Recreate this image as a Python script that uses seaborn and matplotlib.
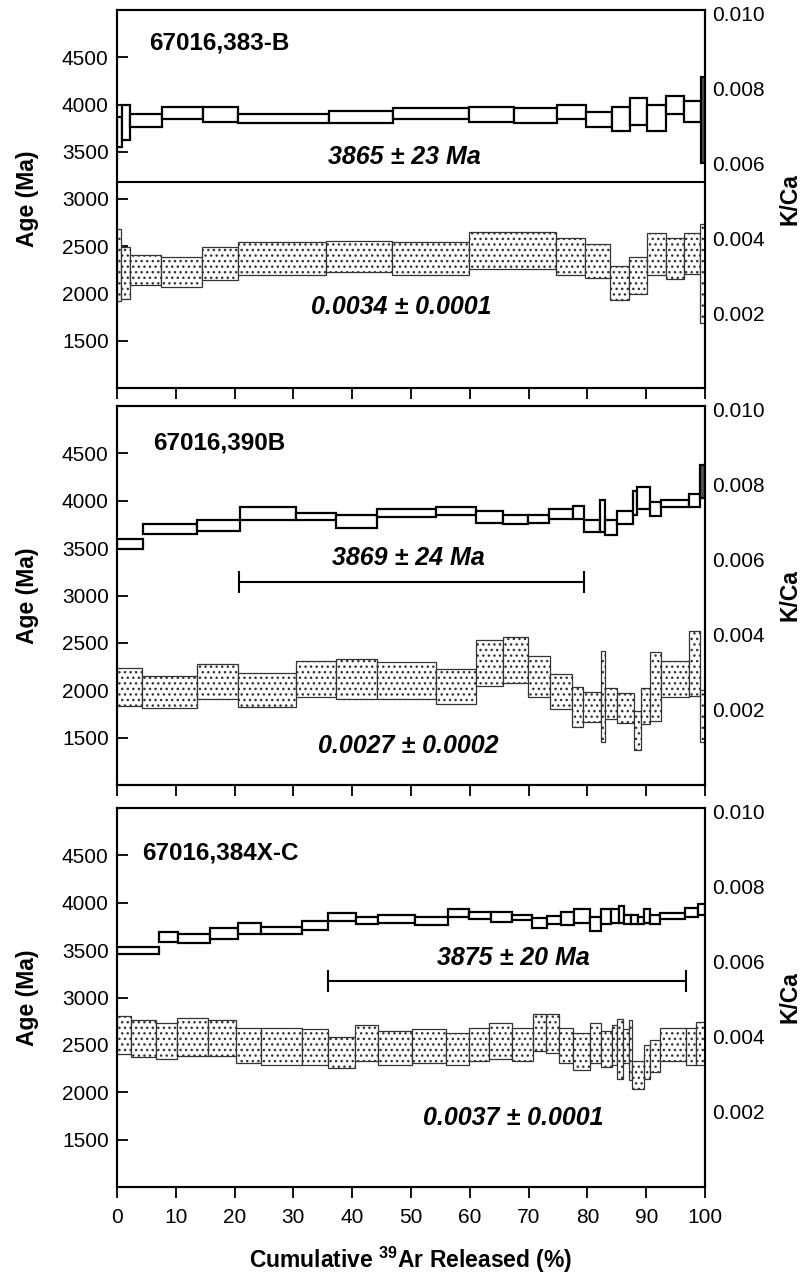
import numpy as np
import matplotlib
matplotlib.use("Agg")
import matplotlib.pyplot as plt
import seaborn as sns

# ----------------------------------------------------------------------
# Datos (bordes en % 39Ar acumulado, edad en Ma)
# ----------------------------------------------------------------------
p1_age_edges = [0, 0.8, 2.2, 7.7, 14.6, 20.6, 36.0, 46.9, 59.8, 67.6, 74.9,
                79.8, 84.2, 87.2, 90.2, 93.4, 96.5, 99.3, 100]
p1_age_hi = [3868, 3995, 3900, 3974, 3974, 3900, 3931, 3963, 3974, 3963,
             3995, 3921, 3974, 4069, 3995, 4090, 4037, 4291]
p1_age_lo = [3550, 3624, 3762, 3847, 3815, 3804, 3804, 3847, 3815, 3804,
             3847, 3762, 3720, 3783, 3720, 3900, 3815, 3381]
p1_kca_edges = [0, 0.6, 2.2, 7.5, 14.4, 20.6, 35.6, 46.7, 59.8, 74.6, 79.6,
                83.9, 87.0, 90.2, 93.3, 96.4, 99.1, 100]
p1_kca_hi = [0.00425, 0.00376, 0.00356, 0.00350, 0.00376, 0.00390, 0.00394,
             0.00390, 0.00418, 0.00400, 0.00385, 0.00327, 0.00350, 0.00414,
             0.00400, 0.00414, 0.00437]
p1_kca_lo = [0.00232, 0.00238, 0.00275, 0.00270, 0.00289, 0.00303, 0.00310,
             0.00303, 0.00319, 0.00303, 0.00294, 0.00236, 0.00250, 0.00301,
             0.00290, 0.00305, 0.00173]

p2_age_edges = [0, 4.4, 13.6, 21.0, 30.5, 37.3, 44.3, 54.3, 61.1, 65.6, 69.9,
                73.4, 77.5, 79.5, 82.2, 83.0, 85.0, 87.8, 88.4, 90.6, 92.5,
                97.3, 99.2, 100]
p2_age_hi = [3600, 3752, 3794, 3929, 3872, 3847, 3914, 3929, 3889, 3854, 3847,
             3910, 3949, 3801, 4013, 3794, 3893, 4104, 4140, 3988, 4013, 4066,
             4376]
p2_age_lo = [3494, 3653, 3678, 3794, 3794, 3713, 3830, 3847, 3769, 3752, 3769,
             3812, 3812, 3670, 3670, 3635, 3752, 3847, 3910, 3836, 3929, 3929,
             4024]
p2_kca_edges = [0, 4.3, 13.6, 20.6, 30.5, 37.3, 44.3, 54.3, 61.1, 65.6, 69.9,
                73.6, 77.3, 79.3, 82.3, 83.0, 85.1, 87.9, 89.1, 90.7, 92.5,
                97.3, 99.1, 100]
p2_kca_hi = [0.00313, 0.00290, 0.00322, 0.00299, 0.00330, 0.00335, 0.00327,
             0.00308, 0.00386, 0.00394, 0.00344, 0.00295, 0.00262, 0.00249,
             0.00358, 0.00258, 0.00244, 0.00197, 0.00258, 0.00355, 0.00330,
             0.00411, 0.00253]
p2_kca_lo = [0.00211, 0.00206, 0.00228, 0.00209, 0.00234, 0.00229, 0.00228,
             0.00216, 0.00264, 0.00271, 0.00234, 0.00202, 0.00154, 0.00169,
             0.00115, 0.00175, 0.00166, 0.00093, 0.00162, 0.00171, 0.00234,
             0.00238, 0.00114]

p3_age_edges = [0, 7.1, 10.4, 15.8, 20.6, 24.5, 31.5, 35.9, 40.6, 44.4, 50.7,
                56.3, 59.8, 63.6, 67.2, 70.6, 73.1, 75.5, 77.8, 80.5, 82.3,
                84.0, 85.3, 86.3, 87.4, 88.6, 89.6, 90.7, 92.3, 96.6, 98.8, 100]
p3_age_hi = [3538, 3693, 3672, 3732, 3791, 3749, 3812, 3890, 3854, 3872, 3854,
             3932, 3907, 3907, 3872, 3837, 3862, 3907, 3932, 3854, 3932, 3932,
             3967, 3872, 3872, 3854, 3932, 3872, 3897, 3943, 3985]
p3_age_lo = [3461, 3591, 3574, 3616, 3672, 3672, 3714, 3809, 3774, 3791, 3767,
             3848, 3827, 3802, 3820, 3732, 3777, 3767, 3791, 3707, 3777, 3791,
             3791, 3777, 3777, 3777, 3791, 3777, 3827, 3854, 3872]
p3_kca_edges = [0, 2.4, 6.7, 10.2, 15.5, 20.2, 24.5, 31.5, 35.9, 40.5, 44.4,
                50.2, 56.0, 59.8, 63.2, 67.2, 70.7, 72.9, 75.1, 77.6, 80.5,
                82.3, 84.2, 85.0, 86.1, 87.0, 87.6, 89.6, 90.6, 92.3, 96.8,
                98.5, 100]
p3_kca_hi = [0.00456, 0.00445, 0.00436, 0.00451, 0.00445, 0.00425, 0.00425,
             0.00420, 0.00401, 0.00432, 0.00416, 0.00420, 0.00411, 0.00425,
             0.00436, 0.00425, 0.00460, 0.00460, 0.00425, 0.00411, 0.00436,
             0.00416, 0.00432, 0.00447, 0.00420, 0.00445, 0.00337, 0.00378,
             0.00392, 0.00425, 0.00425, 0.00441]
p3_kca_lo = [0.00354, 0.00346, 0.00340, 0.00350, 0.00349, 0.00330, 0.00325,
             0.00325, 0.00316, 0.00336, 0.00325, 0.00331, 0.00325, 0.00336,
             0.00340, 0.00336, 0.00362, 0.00356, 0.00331, 0.00312, 0.00330,
             0.00321, 0.00325, 0.00287, 0.00330, 0.00284, 0.00261, 0.00287,
             0.00306, 0.00336, 0.00325, 0.00325]

muestras = ["67016,383-B", "67016,390B", "67016,384X-C"]
textos_edad = ["3865 ± 23 Ma", "3869 ± 24 Ma", "3875 ± 20 Ma"]
textos_kca = ["0.0034 ± 0.0001", "0.0027 ± 0.0002", "0.0037 ± 0.0001"]
# meseta: (inicio, fin) en %; None si no se dibuja la barra
mesetas = [None, (20.8, 79.5), (35.8, 96.8)]

age_ticks = [1000, 1500, 2000, 2500, 3000, 3500, 4000, 4500]
age_ticklabels = ["", "1500", "2000", "2500", "3000", "3500", "4000", "4500"]
kca_ticks = [0.002, 0.004, 0.006, 0.008, 0.010]
kca_ticklabels = ["0.002", "0.004", "0.006", "0.008", "0.010"]
x_ticks = list(range(0, 101, 10))

# ----------------------------------------------------------------------
# Estilo
# ----------------------------------------------------------------------
sns.set_theme(style="ticks")
plt.rcParams["font.family"] = ["Liberation Sans", "DejaVu Sans"]
plt.rcParams["mathtext.fontset"] = "custom"
plt.rcParams["mathtext.rm"] = "Liberation Sans"
plt.rcParams["mathtext.bf"] = "Liberation Sans:bold"
plt.rcParams["hatch.linewidth"] = 1.0
plt.rcParams["hatch.color"] = "black"
plt.rcParams["axes.edgecolor"] = "black"
plt.rcParams["text.color"] = "black"
plt.rcParams["axes.labelcolor"] = "black"
plt.rcParams["xtick.color"] = "black"
plt.rcParams["ytick.color"] = "black"
plt.rcParams["xtick.labelcolor"] = "black"
plt.rcParams["ytick.labelcolor"] = "black"


def dibujar_pasos(ax, edges, lo, hi, face="white", hatch=None, lw=1.5,
                  edge="black", oscuro_ultimo=False):
    edges = np.asarray(edges, dtype=float)
    lo = np.asarray(lo, dtype=float)
    hi = np.asarray(hi, dtype=float)
    colores = [face] * len(lo)
    if oscuro_ultimo:
        colores[-1] = "#555555"
    ax.bar(edges[:-1], hi - lo, width=np.diff(edges), bottom=lo,
           align="edge", color=colores, edgecolor=edge, linewidth=lw,
           hatch=hatch)


fig = plt.figure(figsize=(8.03, 12.77), dpi=100)
W, H = 803.0, 1277.0
paneles = [(10, 388), (406, 785), (808, 1187)]

datos = [
    (p1_age_edges, p1_age_lo, p1_age_hi, p1_kca_edges, p1_kca_lo, p1_kca_hi),
    (p2_age_edges, p2_age_lo, p2_age_hi, p2_kca_edges, p2_kca_lo, p2_kca_hi),
    (p3_age_edges, p3_age_lo, p3_age_hi, p3_kca_edges, p3_kca_lo, p3_kca_hi),
]
pos_muestra = [(5.5, 4654), (6.2, 4612), (4.2, 4523)]
pos_edad = [(48.9, 3448), (49.6, 3392), (67.4, 3415)]
pos_kca = [(48.4, 1861), (49.6, 1413), (67.4, 1727)]
y_meseta = [None, 3141, 3169]

for i, (top, bot) in enumerate(paneles):
    ax = fig.add_axes([117 / W, 1 - bot / H, 588 / W, (bot - top) / H])
    ax2 = ax.twinx()
    ae, alo, ahi, ke, klo, khi = datos[i]

    dibujar_pasos(ax, ae, alo, ahi, face="white", lw=1.6,
                  oscuro_ultimo=(i < 2))
    dibujar_pasos(ax2, ke, klo, khi, face="white", hatch="...", lw=0.9,
                  edge="#333333")

    ax.set_xlim(0, 100)
    ax.set_ylim(1000, 5000)
    ax2.set_ylim(0, 0.0101)
    ax.set_yticks(age_ticks)
    ax.set_yticklabels(age_ticklabels)
    ax2.set_yticks(kca_ticks)
    ax2.set_yticklabels(kca_ticklabels)
    ax.set_xticks(x_ticks)

    ax.tick_params(axis="y", direction="in", length=8, width=1.3,
                   labelsize=15, pad=6)
    ax.tick_params(axis="x", direction="out", length=8, width=1.3,
                   labelsize=15, pad=7, labelbottom=(i == 2))
    ax2.tick_params(axis="y", length=0, labelsize=15, pad=5)
    for a in (ax, ax2):
        for s in a.spines.values():
            s.set_linewidth(1.5)
            s.set_color("black")
    ax.grid(False)
    ax2.grid(False)

    if i == 0:
        ax.axhline(3183, color="black", lw=1.5)

    if mesetas[i] is not None:
        x0, x1 = mesetas[i]
        ax.errorbar((x0 + x1) / 2, y_meseta[i], xerr=(x1 - x0) / 2,
                    fmt="none", ecolor="black", elinewidth=1.5, capsize=8,
                    capthick=1.5)

    ax2.text(pos_muestra[i][0], pos_muestra[i][1], muestras[i],
             transform=ax.transData, fontsize=17.5, fontweight="bold",
             ha="left", va="center")
    ax2.text(pos_edad[i][0], pos_edad[i][1], textos_edad[i],
             transform=ax.transData, fontsize=18, fontweight="bold",
             fontstyle="italic", ha="center", va="center")
    ax2.text(pos_kca[i][0], pos_kca[i][1], textos_kca[i],
             transform=ax.transData, fontsize=18, fontweight="bold",
             fontstyle="italic", ha="center", va="center")

    yc = 1 - (top + bot) / 2 / H
    fig.text(28 / W, yc, "Age (Ma)", rotation=90, fontsize=16.5,
             fontweight="bold", ha="center", va="center")
    fig.text(790 / W, yc, "K/Ca", rotation=90, fontsize=16.5,
             fontweight="bold", ha="center", va="center")

fig.text(411 / W, 1 - 1260 / H, r"Cumulative $\mathbf{^{39}}$Ar Released (%)",
         fontsize=16.5, fontweight="bold", ha="center", va="center")

fig.savefig("out.png", dpi=100)
